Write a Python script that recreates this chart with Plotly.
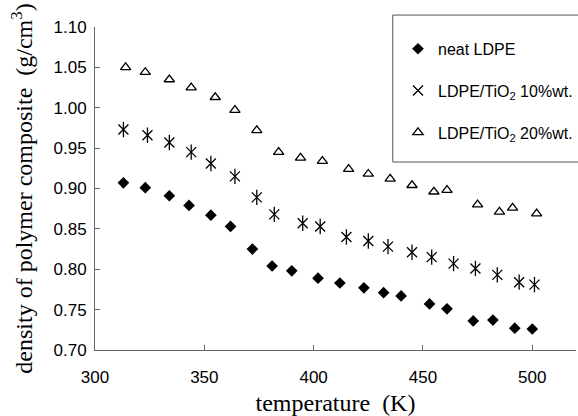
import plotly.graph_objects as go

# neat LDPE
t_neat = [313, 323, 334, 343, 353, 362, 372, 381, 390, 402, 412, 423, 432, 440, 453, 461, 473, 482, 492, 500]
d_neat = [0.907, 0.901, 0.891, 0.879, 0.867, 0.853, 0.825, 0.804, 0.798, 0.789, 0.783, 0.777, 0.771, 0.767,
          0.757, 0.751, 0.736, 0.737, 0.727, 0.726]
# LDPE/TiO2 10%wt.
t_10 = [313, 324, 334, 344, 353, 364, 374, 382, 395, 403, 415, 425, 434, 445, 454, 464, 474, 484, 494, 501]
d_10 = [0.973, 0.966, 0.957, 0.945, 0.931, 0.915, 0.889, 0.868, 0.857, 0.853, 0.840, 0.835, 0.828, 0.821,
        0.815, 0.807, 0.801, 0.793, 0.784, 0.781]
# LDPE/TiO2 20%wt.
t_20 = [314, 323, 334, 344, 355, 364, 374, 384, 394, 404, 416, 425, 435, 445, 455, 461, 475, 485, 491, 502]
d_20 = [1.050, 1.044, 1.035, 1.025, 1.013, 0.997, 0.972, 0.945, 0.938, 0.934, 0.924, 0.918, 0.912, 0.904,
        0.896, 0.898, 0.880, 0.871, 0.876, 0.869]

x_ticks = [300, 350, 400, 450, 500]
y_ticks = [0.70, 0.75, 0.80, 0.85, 0.90, 0.95, 1.00, 1.05, 1.10]

fig = go.Figure()
fig.add_trace(go.Scatter(x=t_neat, y=d_neat, mode="markers", name="neat LDPE", legendgroup="a",
                         marker=dict(symbol="diamond", size=9, color="black")))
fig.add_trace(go.Scatter(x=t_10, y=d_10, mode="markers", name="LDPE/TiO<sub>2</sub> 10%wt.", legendgroup="b",
                         marker=dict(symbol="x-thin-open", size=10, color="black",
                                     line=dict(width=1.3, color="black"))))
fig.add_trace(go.Scatter(x=t_10, y=d_10, mode="markers", showlegend=False, legendgroup="b",
                         marker=dict(symbol="line-ns-open", size=11, color="black",
                                     line=dict(width=1.3, color="black"))))
fig.add_trace(go.Scatter(x=t_20, y=d_20, mode="markers", name="LDPE/TiO<sub>2</sub> 20%wt.", legendgroup="c",
                         marker=dict(symbol="triangle-up-open", size=9, color="black",
                                     line=dict(width=1.3, color="black"))))

fig.add_shape(type="rect", xref="paper", yref="paper", x0=0.619, x1=1.02, y0=0.582, y1=1.037,
              line=dict(color="#555", width=1), fillcolor="rgba(0,0,0,0)")

fig.update_layout(
    width=578, height=416,
    margin=dict(l=95, r=0, t=27, b=66),
    paper_bgcolor="white", plot_bgcolor="white",
    showlegend=True,
    legend=dict(x=0.63, y=0.985, xanchor="left", yanchor="top", bgcolor="rgba(0,0,0,0)",
                font=dict(family="Liberation Sans", size=16, color="black"),
                tracegroupgap=18, itemwidth=30),
    xaxis=dict(range=[300, 520], tickvals=x_ticks, ticktext=[str(v) for v in x_ticks],
               showgrid=False, zeroline=False, showline=True, linecolor="#666", linewidth=1,
               ticks="inside", ticklen=5, tickcolor="#666",
               tickfont=dict(family="Liberation Sans", size=17, color="black"),
               ticklabelstandoff=12,
               title=dict(text="temperature  (K)", standoff=7,
                          font=dict(family="Liberation Serif", size=24, color="black"))),
    yaxis=dict(range=[0.70, 1.10], tickvals=y_ticks, ticktext=[f"{v:.2f}" for v in y_ticks],
               showgrid=False, zeroline=False, showline=True, linecolor="#666", linewidth=1,
               ticks="inside", ticklen=5, tickcolor="#666",
               tickfont=dict(family="Liberation Sans", size=17, color="black"),
               ticklabelstandoff=4,
               title=dict(text="density of polymer composite  (g/cm<sup>3</sup>)", standoff=14,
                          font=dict(family="Liberation Serif", size=24, color="black"))),
)

fig.write_html("out.html")
